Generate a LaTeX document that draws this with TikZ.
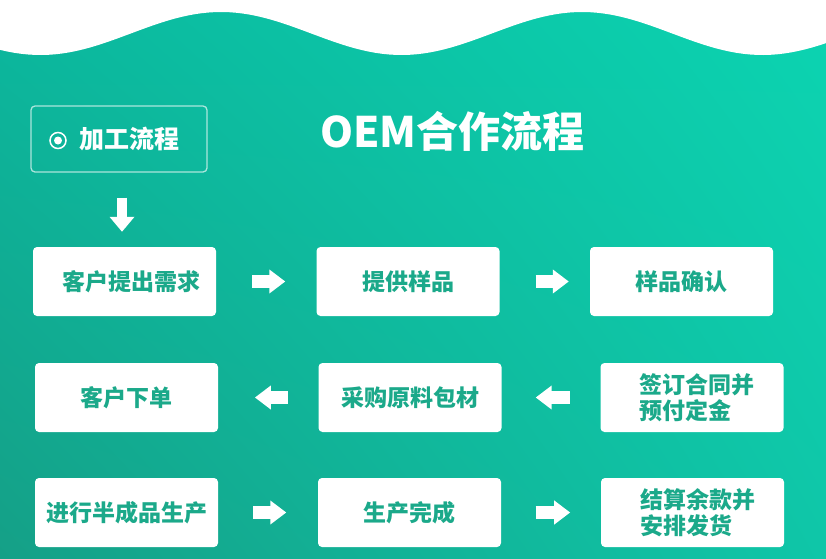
\documentclass[tikz,border=0pt]{standalone}
\usepackage{fontspec}
\newfontfamily\cjk{Noto Sans CJK SC}
\usetikzlibrary{arrows.meta,shadings}
\definecolor{tealtxt}{HTML}{1BA98A}
\definecolor{bgUL}{HTML}{0BB89E}
\definecolor{bgUR}{HTML}{0CD4B1}
\definecolor{bgLL}{HTML}{15A087}
\definecolor{bgLR}{HTML}{0FC6A8}
\tikzset{
  stepbox/.style={fill=white, rounded corners=4pt, minimum width=183pt, minimum height=69pt,
    inner sep=0pt, font=\cjk\bfseries\fontsize{23}{26.5}\selectfont, text=tealtxt, align=left},
  blockarrow/.style={draw=white, line width=13pt, -{Triangle[width=23pt, length=16pt]}},
  downarrow/.style={draw=white, line width=10pt, -{Triangle[width=24pt, length=15pt]}},
  hdrbox/.style={draw=white, draw opacity=0.65, line width=1.3pt, rounded corners=4pt,
    minimum width=176pt, minimum height=66pt, inner sep=0pt},
  hdrtext/.style={font=\cjk\bfseries\fontsize{25}{25}\selectfont, text=white, inner sep=0pt},
  titletext/.style={font=\cjk\bfseries\fontsize{42}{42}\selectfont, text=white, inner sep=0pt}
}
\begin{document}
\begin{tikzpicture}[x=1pt,y=-1pt]
\useasboundingbox (0,0) rectangle (826,558);
\shade[upper left=bgUL, upper right=bgUR, lower left=bgLL, lower right=bgLR] (0,0) rectangle (826,558);
\fill[white] (0,0) -- plot[domain=0:826, samples=120] (\x, {33.5-21.5*cos(((\x-221)/361)*360)}) -- (826,0) -- cycle;

% header
\node[hdrbox] (hdr) at (119,139) {};
\node[circle, draw=white, line width=1.5pt, minimum size=16pt, inner sep=0pt] (icon) at (58,140.5) {};
\node[circle, fill=white, minimum size=8pt, inner sep=0pt] (icondot) at (icon.center) {};
\node[hdrtext] (hdrtxt) at (129,139) {加工流程};
\node[titletext] (title) at (452.5,131) {OEM合作流程};

% boxes
\node[stepbox] (b1) at (124.5,281.5) {\hspace*{14pt}客户提出需求};
\node[stepbox] (b2) at (408,281.5) {提供样品};
\node[stepbox] (b3) at (681.5,281.5) {样品确认};
\node[stepbox] (b4) at (126.5,397.5) {客户下单};
\node[stepbox] (b5) at (410,397.5) {采购原料包材};
\node[stepbox] (b6) at (692,397.5) {\hspace*{10pt}签订合同并\\\hspace*{10pt}预付定金};
\node[stepbox] (b7) at (126.5,512.5) {进行半成品生产};
\node[stepbox] (b8) at (409.5,512.5) {生产完成};
\node[stepbox] (b9) at (692.5,512.5) {\hspace*{10pt}结算余款并\\\hspace*{10pt}安排发货};

% arrows
\draw[downarrow, shorten <=25pt, shorten >=15pt] ([xshift=3pt]hdr.south) -- ([xshift=3pt]hdr.south |- b1.north);
\draw[blockarrow, shorten <=36pt, shorten >=31pt] (b1.east) -- (b2.west);
\draw[blockarrow, shorten <=36pt, shorten >=21pt] (b2.east) -- (b3.west);
\draw[blockarrow, shorten <=30.6pt, shorten >=34pt] (b6.west) -- (b5.east);
\draw[blockarrow, shorten <=30.5pt, shorten >=36.7pt] (b5.west) -- (b4.east);
\draw[blockarrow, shorten <=35pt, shorten >=31.5pt] (b7.east) -- (b8.west);
\draw[blockarrow, shorten <=34.4pt, shorten >=30.6pt] (b8.east) -- (b9.west);
\end{tikzpicture}
\end{document}
